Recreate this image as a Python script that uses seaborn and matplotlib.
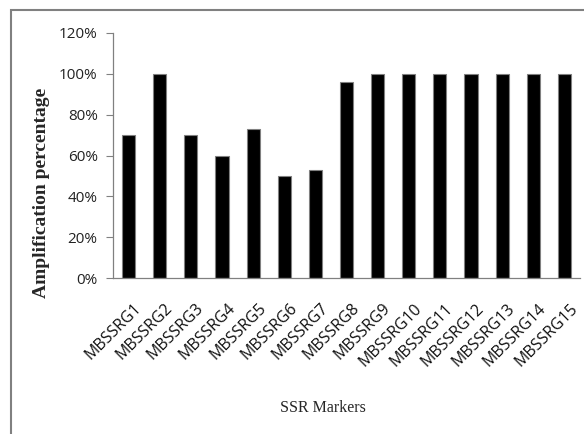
import matplotlib
matplotlib.use('Agg')
import matplotlib.pyplot as plt
import matplotlib.transforms as mtransforms
from matplotlib.patches import Rectangle
from matplotlib.ticker import PercentFormatter
import seaborn as sns
import pandas as pd

# 数据
markers = ['MBSSRG1', 'MBSSRG2', 'MBSSRG3', 'MBSSRG4', 'MBSSRG5',
           'MBSSRG6', 'MBSSRG7', 'MBSSRG8', 'MBSSRG9', 'MBSSRG10',
           'MBSSRG11', 'MBSSRG12', 'MBSSRG13', 'MBSSRG14', 'MBSSRG15']
amplification = [70, 100, 70, 60, 73, 50, 53, 96, 100, 100, 100, 100, 100, 100, 100]
y_ticks = [0, 20, 40, 60, 80, 100, 120]

sns.set_style('white')
plt.rcParams['font.family'] = ['Open Sans', 'DejaVu Sans']

df = pd.DataFrame({'marker': markers, 'value': amplification})

W, H = 584, 434
fig = plt.figure(figsize=(W / 100, H / 100), dpi=100)
ax = fig.add_axes([113 / W, 1 - 278 / H, (580 - 113) / W, (278 - 33) / H])

sns.barplot(data=df, x='marker', y='value', color='black', width=0.42,
            edgecolor='#808080', linewidth=0.8, saturation=1, ax=ax)

ax.set_ylim(0, 120)
ax.set_yticks(y_ticks)
ax.yaxis.set_major_formatter(PercentFormatter(decimals=0))
ax.set_xlim(-0.5, len(markers) - 0.5)

for side in ['top', 'right']:
    ax.spines[side].set_visible(False)
for side in ['left', 'bottom']:
    ax.spines[side].set_color('#808080')
    ax.spines[side].set_linewidth(0.9)

ax.tick_params(axis='y', which='major', direction='out', length=5, width=0.8,
               color='#808080', labelsize=11, pad=6, left=True)
ax.tick_params(axis='x', length=0, labelsize=11.5, pad=16)
shift = mtransforms.ScaledTranslation(5 / 100, 0, fig.dpi_scale_trans)
for lab in ax.get_xticklabels():
    lab.set_rotation(45)
    lab.set_ha('right')
    lab.set_rotation_mode('anchor')
    lab.set_transform(lab.get_transform() + shift)
    lab.set_color('#111111')
for lab in ax.get_yticklabels():
    lab.set_color('#222222')

ax.set_xlabel('')
ax.set_ylabel('')
fig.text(42 / W, 1 - 193 / H, 'Amplification percentage', rotation=90,
         fontfamily='Liberation Serif', fontweight='bold', fontsize=14,
         ha='center', va='center')
fig.text(323 / W, 1 - 408 / H, 'SSR Markers', fontfamily='Liberation Serif',
         fontsize=11.5, ha='center', va='center')

# 外框
fig.patches.append(Rectangle((11 / W, -0.1), 1.2, 1 - 10 / H + 0.1,
                             transform=fig.transFigure, fill=False,
                             edgecolor='#808080', linewidth=1.5))

fig.savefig('out.png', dpi=100)
